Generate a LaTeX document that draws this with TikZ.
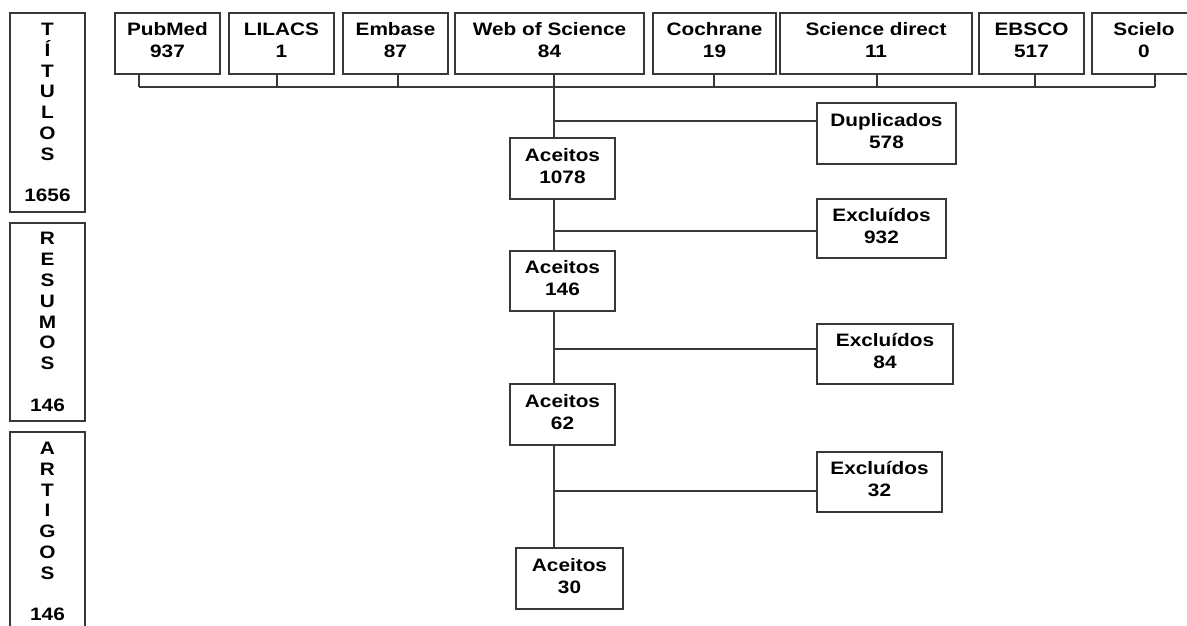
\documentclass[tikz,border=0pt]{standalone}
\usepackage{fontspec}
\setmainfont{Liberation Sans}[FakeStretch=1.155]
\newcommand\twol[2]{\rule{0pt}{13.6pt}#1\\#2\rule[-6.6pt]{0pt}{6.6pt}}
\begin{document}
\begin{tikzpicture}[x=1pt,y=-1pt,
  bx/.style={draw=black!78,line width=1.4pt,fill=white,rectangle,align=center,
     font=\fontsize{18}{22}\selectfont\bfseries,inner sep=0pt},
  side/.style={bx,minimum width=75pt,font=\fontsize{18}{20.8}\selectfont\bfseries},
  ln/.style={draw=black!78,line width=1.4pt}]
\useasboundingbox[fill=white] (0,0) rectangle (1187,626);
% side boxes
\node[side,minimum height=199pt] (tit) at (47.5,112.5) {T\\Í\\T\\U\\L\\O\\S\\[20.8pt]1656};
\node[side,minimum height=198pt] (res) at (47.5,322) {R\\E\\S\\U\\M\\O\\S\\[20.8pt]146};
\node[side,minimum height=199pt] (art) at (47.5,531.5) {A\\R\\T\\I\\G\\O\\S\\[20.8pt]146};
% top sources
\node[bx,minimum width=105pt,minimum height=61pt] (pub) at (167.5,43.5) {\twol{PubMed}{937}};
\node[bx,minimum width=105pt,minimum height=61pt] (lil) at (281.5,43.5) {\twol{LILACS}{1}};
\node[bx,minimum width=105pt,minimum height=61pt] (emb) at (395.5,43.5) {\twol{Embase}{87}};
\node[bx,minimum width=189pt,minimum height=61pt] (wos) at (549.5,43.5) {\twol{Web of Science}{84}};
\node[bx,minimum width=123pt,minimum height=61pt] (coc) at (714.5,43.5) {\twol{Cochrane}{19}};
\node[bx,minimum width=192pt,minimum height=61pt] (sd) at (876,43.5) {\twol{Science direct}{11}};
\node[bx,minimum width=105pt,minimum height=61pt] (ebs) at (1031.5,43.5) {\twol{EBSCO}{517}};
\node[bx,minimum width=104pt,minimum height=61pt] (sci) at (1144,43.5) {\twol{Scielo}{0}};
% flow
\node[bx,minimum width=105pt,minimum height=61pt] (ac1) at (562.5,168.5) {\twol{Aceitos}{1078}};
\node[bx,minimum width=105pt,minimum height=60pt] (ac2) at (562.5,281) {\twol{Aceitos}{146}};
\node[bx,minimum width=105pt,minimum height=61pt] (ac3) at (562.5,414.5) {\twol{Aceitos}{62}};
\node[bx,minimum width=107pt,minimum height=61pt] (ac4) at (569.5,578.5) {\twol{Aceitos}{30}};
\node[bx,minimum width=139pt,minimum height=61pt] (dup) at (886.5,133.5) {\twol{Duplicados}{578}};
\node[bx,minimum width=129pt,minimum height=59pt] (ex1) at (881.5,228.5) {\twol{Excluídos}{932}};
\node[bx,minimum width=136pt,minimum height=60pt] (ex2) at (885,354) {\twol{Excluídos}{84}};
\node[bx,minimum width=125pt,minimum height=60pt] (ex3) at (879.5,482) {\twol{Excluídos}{32}};
% bus coordinates
\coordinate (dpub) at (139,87);
\coordinate (dlil) at (277,87);
\coordinate (demb) at (398,87);
\coordinate (dwos) at (554,87);
\coordinate (dcoc) at (714,87);
\coordinate (dsd) at (877,87);
\coordinate (debs) at (1035,87);
\coordinate (dsci) at (1155,87);
\coordinate (j2) at (554,121);
\coordinate (j3) at (554,231);
\coordinate (j4) at (554,349);
\coordinate (j5) at (554,491);
\draw[ln] (dpub) -- (dsci);
\foreach \n/\d in {pub/dpub,lil/dlil,emb/demb,wos/dwos,coc/dcoc,sd/dsd,ebs/debs,sci/dsci}
  \draw[ln] (\n.south -| \d) -- (\d);
\draw[ln] (dwos) -- (ac1.north -| dwos);
\draw[ln] (ac1.south -| dwos) -- (ac2.north -| dwos);
\draw[ln] (ac2.south -| dwos) -- (ac3.north -| dwos);
\draw[ln] (ac3.south -| dwos) -- (ac4.north -| dwos);
\draw[ln] (j2) -- (j2 -| dup.west);
\draw[ln] (j3) -- (j3 -| ex1.west);
\draw[ln] (j4) -- (j4 -| ex2.west);
\draw[ln] (j5) -- (j5 -| ex3.west);
\end{tikzpicture}
\end{document}
